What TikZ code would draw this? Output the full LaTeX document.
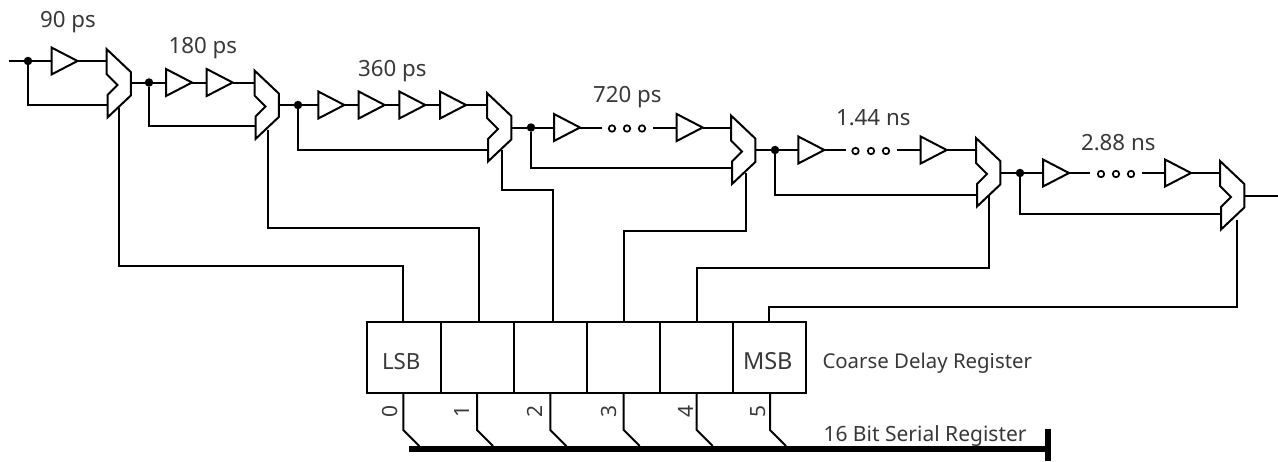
\documentclass[tikz,border=0pt]{standalone}
\usepackage{fontspec}
\setmainfont{Noto Sans}
\tikzset{
  x=1pt,y=-1pt,
  wire/.style={line width=2pt,line join=miter},
  lbl/.style={inner sep=0pt,outer sep=0pt,text=black!78,font=\fontsize{21}{24}\selectfont,anchor=base west},
  dlbl/.style={lbl,font=\fontsize{22.3}{24}\selectfont},
  clbl/.style={lbl,font=\fontsize{20.4}{24}\selectfont},
  bitlbl/.style={inner sep=0pt,outer sep=0pt,text=black!78,font=\fontsize{21}{24}\selectfont,rotate=90},
  junction/.style={circle,fill=black,inner sep=0pt,minimum size=8.5pt},
  ring/.style={circle,draw=black,line width=1.7pt,inner sep=0pt,minimum size=6.5pt},
  cell/.style={draw=black,line width=2pt,minimum width=73.2pt,minimum height=71pt,inner sep=0pt,outer sep=0pt,anchor=north west},
  pics/mux/.style={code={
    \draw[wire,fill=white] (0,0)--(24.3,23)--(24.3,46.5)--(1,68.5)--(1,46)--(11,36)--(0,25)--cycle;
    \coordinate (-a) at (0,12);
    \coordinate (-o) at (24.3,34);
  }},
  pics/buf/.style={code={
    \draw[wire,fill=white] (0,-13.5)--(26,0)--(0,13.5)--cycle;
    \coordinate (-i) at (0,0);
    \coordinate (-o) at (26,0);
  }},
}
\begin{document}
\begin{tikzpicture}
\useasboundingbox (0,0) rectangle (1278,461);
% multiplexers
\pic (m1) at (106.5,49) {mux};
\pic (m2) at (254.5,70.5) {mux};
\pic (m3) at (487,93) {mux};
\pic (m4) at (731,115.5) {mux};
\pic (m5) at (976,138) {mux};
\pic (m6) at (1220,161) {mux};
% junctions
\coordinate (in) at (9,61);
\coordinate (out) at (1278,195.5);
\node[junction] (j1) at (28,61) {};
\node[junction] (j2) at (149,82.5) {};
\node[junction] (j3) at (298,105) {};
\node[junction] (j4) at (531,127.5) {};
\node[junction] (j5) at (775,150) {};
\node[junction] (j6) at (1020,173) {};
% buffers
\pic (b1) at (51.5,61) {buf};
\pic (b2a) at (166,82.5) {buf};
\pic (b2b) at (206.7,82.5) {buf};
\pic (b3a) at (318.3,105) {buf};
\pic (b3b) at (358.7,105) {buf};
\pic (b3c) at (399.3,105) {buf};
\pic (b3d) at (440,105) {buf};
\pic (b4a) at (554,127.5) {buf};
\pic (b4b) at (676.7,127.5) {buf};
\pic (b5a) at (798.3,150) {buf};
\pic (b5b) at (920.7,150) {buf};
\pic (b6a) at (1043,173) {buf};
\pic (b6b) at (1165,173) {buf};
% dots
\node[ring] (d41) at (612,128.5) {};
\node[ring] (d42) at (627,128.5) {};
\node[ring] (d43) at (642,128.5) {};
\node[ring] (d51) at (855.5,151) {};
\node[ring] (d52) at (871,151) {};
\node[ring] (d53) at (886,151) {};
\node[ring] (d61) at (1101,174) {};
\node[ring] (d62) at (1116,174) {};
\node[ring] (d63) at (1131,174) {};
\coordinate (w4a) at (602,127.5); \coordinate (w4b) at (653,127.5);
\coordinate (w5a) at (846,150);   \coordinate (w5b) at (897,150);
\coordinate (w6a) at (1090,173);  \coordinate (w6b) at (1142,173);
% forward wiring
\draw[wire] (in)--(j1)--(b1-i) (b1-o)--(m1-a);
\draw[wire] (m1-o|-j2)--(j2)--(b2a-i) (b2a-o)--(b2b-i) (b2b-o)--(m2-a);
\draw[wire] (m2-o|-j3)--(j3)--(b3a-i) (b3a-o)--(b3b-i) (b3b-o)--(b3c-i) (b3c-o)--(b3d-i) (b3d-o)--(m3-a);
\draw[wire] (m3-o|-j4)--(j4)--(b4a-i) (b4a-o)--(w4a) (w4b)--(b4b-i) (b4b-o)--(m4-a);
\draw[wire] (m4-o|-j5)--(j5)--(b5a-i) (b5a-o)--(w5a) (w5b)--(b5b-i) (b5b-o)--(m5-a);
\draw[wire] (m5-o|-j6)--(j6)--(b6a-i) (b6a-o)--(w6a) (w6b)--(b6b-i) (b6b-o)--(m6-a);
\draw[wire] (m6-o|-out)--(out);
% bypass wiring
\coordinate (p1) at (107.5,105);
\coordinate (p2) at (255.5,126);
\coordinate (p3) at (488,150);
\coordinate (p4) at (732,168);
\coordinate (p5) at (977,195);
\coordinate (p6) at (1221,214);
\draw[wire] (j1)|-(p1);
\draw[wire] (j2)|-(p2);
\draw[wire] (j3)|-(p3);
\draw[wire] (j4)|-(p4);
\draw[wire] (j5)|-(p5);
\draw[wire] (j6)|-(p6);
% register
\node[cell] (r0) at (367.3,322) {};
\node[cell] (r1) at (440.5,322) {};
\node[cell] (r2) at (513.9,322) {};
\node[cell] (r3) at (587,322) {};
\node[cell] (r4) at (660,322) {};
\node[cell] (r5) at (733.2,322) {};
\node[dlbl] (lsb) at (382,369) {LSB};
\node[dlbl,font=\fontsize{23.5}{24}\selectfont] (msb) at (743,369) {MSB};
\node[clbl] (crd) at (822.5,368.5) {Coarse Delay Register};
% control lines
\coordinate (c1) at (119,108);
\coordinate (c2) at (268,130);
\coordinate (c3) at (501.7,150);
\coordinate (c4) at (746,173);
\coordinate (c5) at (989,195);
\coordinate (c6) at (1237,220);
\coordinate (h1) at (403.3,266);
\coordinate (h2) at (479,227.7);
\coordinate (h3) at (552.7,190);
\coordinate (h4) at (623.7,231);
\coordinate (h5) at (697.3,268);
\coordinate (h6) at (769.3,307.3);
\foreach \i/\r in {1/r0,2/r1,3/r2,4/r3,5/r4,6/r5}{
  \draw[wire] (c\i)|-(h\i)--(h\i|-\r.north);
}
% serial bus
\coordinate (busl) at (409,449);
\coordinate (busr) at (1048,449);
\coordinate (capt) at (1048,429);
\coordinate (capb) at (1048,461);
\draw[line width=6.5pt] (busl)--(busr);
\draw[line width=6.2pt] (capt)--(capb);
\foreach \n/\x/\r/\l in {0/403.3/r0/390,1/477/r1/461.7,2/550.3/r2/535,3/623.7/r3/609,4/696.7/r4/686,5/770/r5/758.5}{
  \draw[wire] (\x,393)--(\x,430)--(\x+16,446);
  \node[bitlbl] (bit\n) at (\l,411) {\n};
}
\node[lbl] (sr) at (823.5,441) {16 Bit Serial Register};
% delay labels
\node[dlbl] (t1) at (40,27) {90 ps};
\node[dlbl] (t2) at (168.5,53.5) {180 ps};
\node[dlbl] (t3) at (358,76) {360 ps};
\node[dlbl] (t4) at (593,102) {720 ps};
\node[dlbl] (t5) at (836,125) {1.44 ns};
\node[dlbl] (t6) at (1081,150) {2.88 ns};
\end{tikzpicture}
\end{document}
